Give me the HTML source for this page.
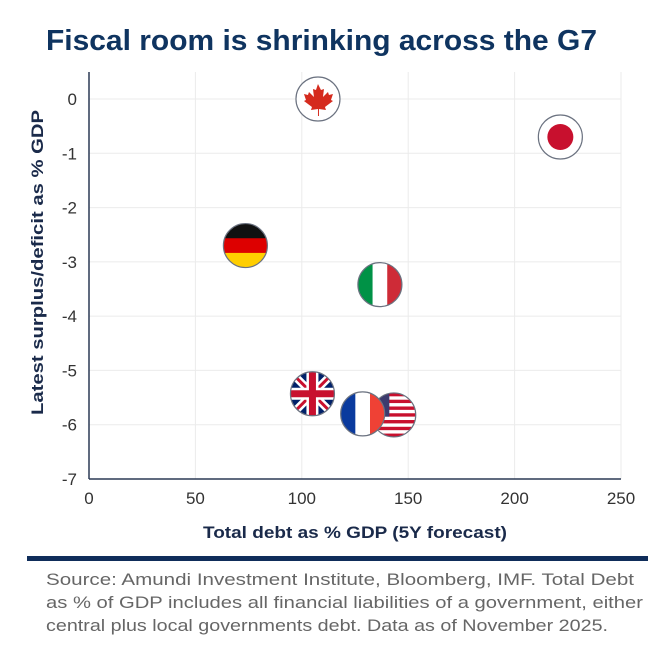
<!DOCTYPE html>
<html><head><meta charset="utf-8">
<style>
body{margin:0;background:#fff;width:670px;height:646px;overflow:hidden;font-family:"Liberation Sans",sans-serif}
</style></head>
<body>
<svg width="670" height="646" xmlns="http://www.w3.org/2000/svg" id="chart">
<text x="46" y="50" textLength="551" lengthAdjust="spacingAndGlyphs" font-family="Liberation Sans, sans-serif" font-weight="bold" font-size="29" fill="#0f3460">Fiscal room is shrinking across the G7</text>
<g id="grid"></g>
<g id="axes"></g>
<g id="marks"></g>
<text x="203" y="538" textLength="304" lengthAdjust="spacingAndGlyphs" font-weight="bold" font-size="17" fill="#1a2a4a">Total debt as % GDP (5Y forecast)</text>
<text transform="translate(43,415) rotate(-90)" textLength="305" lengthAdjust="spacingAndGlyphs" font-weight="bold" font-size="17" fill="#1a2a4a">Latest surplus/deficit as % GDP</text>
<rect x="27" y="556" width="621" height="5" fill="#0f2d5a"/>
<g font-size="17" fill="#666">
<text x="46" y="585" textLength="588" lengthAdjust="spacingAndGlyphs">Source: Amundi Investment Institute, Bloomberg, IMF. Total Debt</text>
<text x="46" y="608" textLength="597" lengthAdjust="spacingAndGlyphs">as % of GDP includes all financial liabilities of a government, either</text>
<text x="46" y="631" textLength="562" lengthAdjust="spacingAndGlyphs">central plus local governments debt. Data as of November 2025.</text>
</g>
</svg>
<script>
const countries=["Canada","Japan","Germany","Italy","UK","France","US"];
const debt=[107.6,221.5,73.5,136.7,105,128.6,143.2];
const balance=[0,-0.7,-2.7,-3.42,-5.43,-5.8,-5.82];
const xTicks=[0,50,100,150,200,250];
const yTicks=[0,-1,-2,-3,-4,-5,-6,-7];
const NS="http://www.w3.org/2000/svg";
const X0=89,X1=621,Y0=99,Y7=479;
const xs=v=>X0+(v/250)*(X1-X0);
const ys=v=>Y0+(-v/7)*(Y7-Y0);
function mk(t,a,p){const e=document.createElementNS(NS,t);for(const k in a)e.setAttribute(k,a[k]);(p||document.getElementById('chart')).appendChild(e);return e;}
const grid=document.getElementById('grid'),axes=document.getElementById('axes'),marks=document.getElementById('marks');
xTicks.forEach(t=>{
 const l=mk('line',{x1:xs(t),x2:xs(t),y1:72,y2:Y7,stroke:'#ebebeb','stroke-width':1},grid);
 
 
 const tx=mk('text',{x:xs(t),y:Y7+25,'text-anchor':'middle','font-size':17,fill:'#333'},axes);
 tx.textContent=t;
 
 
});
yTicks.forEach(t=>{
 const l=mk('line',{x1:X0,x2:X1,y1:ys(t),y2:ys(t),stroke:'#ebebeb','stroke-width':1},grid);
 
 
 const tx=mk('text',{x:X0-12,y:ys(t)+6,'text-anchor':'end','font-size':17,fill:'#333'},axes);
 tx.textContent=t===0?'0':'-'+Math.abs(t);
 
 
});
const ya=mk('line',{x1:X0,x2:X0,y1:72,y2:Y7,stroke:'#2b3a55','stroke-width':1.5},axes);


const xa=mk('line',{x1:X0,x2:X1,y1:Y7,y2:Y7,stroke:'#2b3a55','stroke-width':1.5},axes);


const R=22;
function flag(name,cx,cy){
 const g=mk('g',{},marks);
 
 
 const id='c'+name;
 const cp=mk('clipPath',{id:id},g);mk('circle',{cx:cx,cy:cy,r:R},cp);
 const f=mk('g',{'clip-path':'url(#'+id+')'},g);
 const x=cx-R,y=cy-R,w=2*R;
 if(name==='Canada'){mk('rect',{x:x,y:y,width:w,height:w,fill:'#fff'},f);
  mk('path',{d:`M${cx} ${cy-15} l3 6 3-1 -1 8 5-5 1 3 4-1 -2 6 2 1 -8 6 1 3 -7-1 0 7 h-1 v-7 l-7 1 1-3 -8-6 2-1 -2-6 4 1 1-3 5 5 -1-8 3 1z`,fill:'#d52b1e'},f);}
 if(name==='Japan'){mk('rect',{x:x,y:y,width:w,height:w,fill:'#fff'},f);mk('circle',{cx:cx,cy:cy,r:13,fill:'#c8102e'},f);}
 if(name==='Germany'){['#111','#dd0000','#ffce00'].forEach((c,i)=>mk('rect',{x:x,y:y+i*w/3,width:w,height:w/3+0.5,fill:c},f));}
 if(name==='Italy'){['#009246','#fff','#ce2b37'].forEach((c,i)=>mk('rect',{x:x+i*w/3,y:y,width:w/3+0.5,height:w,fill:c},f));}
 if(name==='France'){['#0a3a9e','#fff','#ef4135'].forEach((c,i)=>mk('rect',{x:x+i*w/3,y:y,width:w/3+0.5,height:w,fill:c},f));}
 if(name==='US'){for(let i=0;i<13;i++)mk('rect',{x:x,y:y+i*w/13,width:w,height:w/13+0.3,fill:i%2?'#fff':'#c8102e'},f);mk('rect',{x:x,y:y,width:w*0.4,height:w*7/13,fill:'#3c3b6e'},f);}
 if(name==='UK'){mk('rect',{x:x,y:y,width:w,height:w,fill:'#012169'},f);
  mk('path',{d:`M${x} ${y}L${x+w} ${y+w}M${x+w} ${y}L${x} ${y+w}`,stroke:'#fff','stroke-width':8},f);
  mk('path',{d:`M${x} ${y}L${x+w} ${y+w}M${x+w} ${y}L${x} ${y+w}`,stroke:'#c8102e','stroke-width':3},f);
  mk('path',{d:`M${cx} ${y}V${y+w}M${x} ${cy}H${x+w}`,stroke:'#fff','stroke-width':12},f);
  mk('path',{d:`M${cx} ${y}V${y+w}M${x} ${cy}H${x+w}`,stroke:'#c8102e','stroke-width':7},f);}
 mk('circle',{cx:cx,cy:cy,r:R,fill:'none',stroke:'#6b7280','stroke-width':1.2},g);
}
const order=[0,1,2,3,4,6,5];
order.forEach(i=>flag(countries[i],xs(debt[i]),ys(balance[i])));
</script>
</body></html>
